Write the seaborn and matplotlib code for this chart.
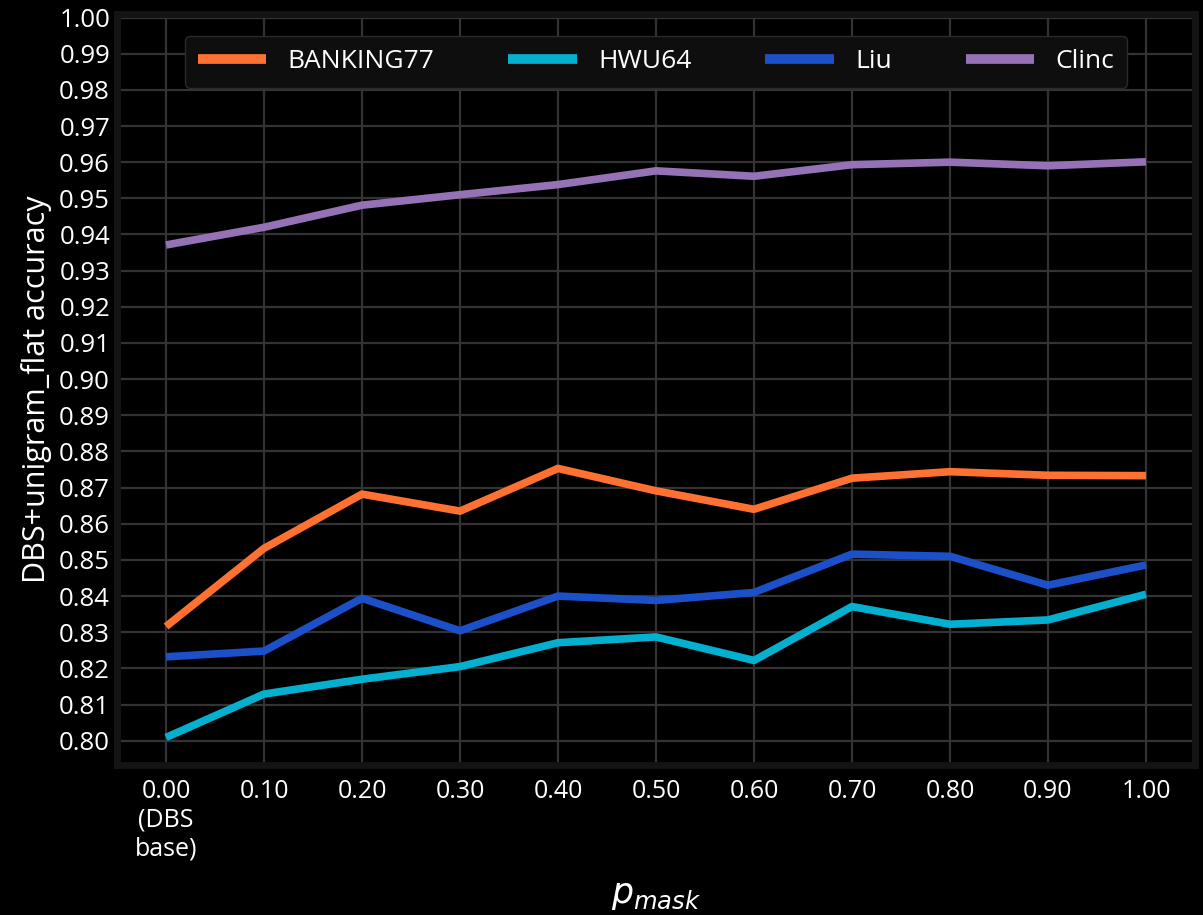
import numpy as np
import pandas as pd
import seaborn as sns
import matplotlib.pyplot as plt

# p_mask values
p_mask = [0.0, 0.1, 0.2, 0.3, 0.4, 0.5, 0.6, 0.7, 0.8, 0.9, 1.0]
x_labels = ['0.00\n(DBS\nbase)', '0.10', '0.20', '0.30', '0.40', '0.50',
            '0.60', '0.70', '0.80', '0.90', '1.00']

banking77 = [0.8316, 0.8532, 0.8682, 0.8635, 0.8753, 0.8691, 0.8640, 0.8726, 0.8744, 0.8734, 0.8733]
hwu64 = [0.8009, 0.8129, 0.8170, 0.8205, 0.8271, 0.8287, 0.8222, 0.8371, 0.8322, 0.8334, 0.8405]
liu = [0.8232, 0.8248, 0.8394, 0.8304, 0.8400, 0.8388, 0.8410, 0.8516, 0.8510, 0.8430, 0.8486]
clinc = [0.9371, 0.9420, 0.9481, 0.9510, 0.9538, 0.9576, 0.9561, 0.9593, 0.9600, 0.9590, 0.9601]

datasets = ['BANKING77', 'HWU64', 'Liu', 'Clinc']
colors = ['#ff7130', '#03b0cf', '#1c50c9', '#9571b6']

df = pd.DataFrame({
    'p_mask': p_mask * 4,
    'accuracy': banking77 + hwu64 + liu + clinc,
    'dataset': np.repeat(datasets, len(p_mask)),
})

sns.set_theme(style="darkgrid", rc={
    'figure.facecolor': 'black',
    'axes.facecolor': 'black',
    'axes.edgecolor': '#141414',
    'axes.linewidth': 5,
    'grid.color': '#333333',
    'grid.linewidth': 1.6,
    'text.color': 'white',
    'axes.labelcolor': 'white',
    'xtick.color': 'white',
    'ytick.color': 'white',
    'lines.solid_capstyle': 'butt',
})
plt.rcParams['font.family'] = ['Open Sans', 'DejaVu Sans']
plt.rcParams['mathtext.fontset'] = 'dejavusans'

fig = plt.figure(figsize=(12.03, 9.15), dpi=100)
ax = fig.add_axes([0.0973, 0.164, 0.896, 0.8208])

sns.lineplot(data=df, x='p_mask', y='accuracy', hue='dataset',
             palette=colors, linewidth=5.5, ax=ax)

ax.set_xlim(-0.05, 1.05)
ax.set_ylim(0.7933, 1.0010)
ax.set_xticks(p_mask)
ax.set_xticklabels(x_labels, fontsize=18, linespacing=1.2)
yt = np.round(np.arange(0.80, 1.001, 0.01), 2)
ax.set_yticks(yt)
ax.set_yticklabels([f'{v:.2f}' for v in yt], fontsize=18.5)
ax.tick_params(axis='x', length=0, pad=10)
ax.tick_params(axis='y', length=0, pad=5)
for s in ax.spines.values():
    s.set_visible(True)

ax.set_xlabel('$p_{mask}$', fontsize=25, labelpad=12)
ax.set_ylabel('DBS+unigram_flat accuracy', fontsize=22, labelpad=5)

leg = ax.legend(loc='upper center', ncol=4, fontsize=19, frameon=True,
                bbox_to_anchor=(0.5, 0.988), handlelength=2.6,
                columnspacing=2.8, borderpad=0.5)
leg.get_frame().set_facecolor('#0e0e0e')
leg.get_frame().set_edgecolor('#2a2a2a')
leg.get_frame().set_alpha(1)
for line in leg.get_lines():
    line.set_linewidth(7)
    line.set_solid_capstyle('butt')

plt.savefig('out.png', dpi=100, facecolor='black')
